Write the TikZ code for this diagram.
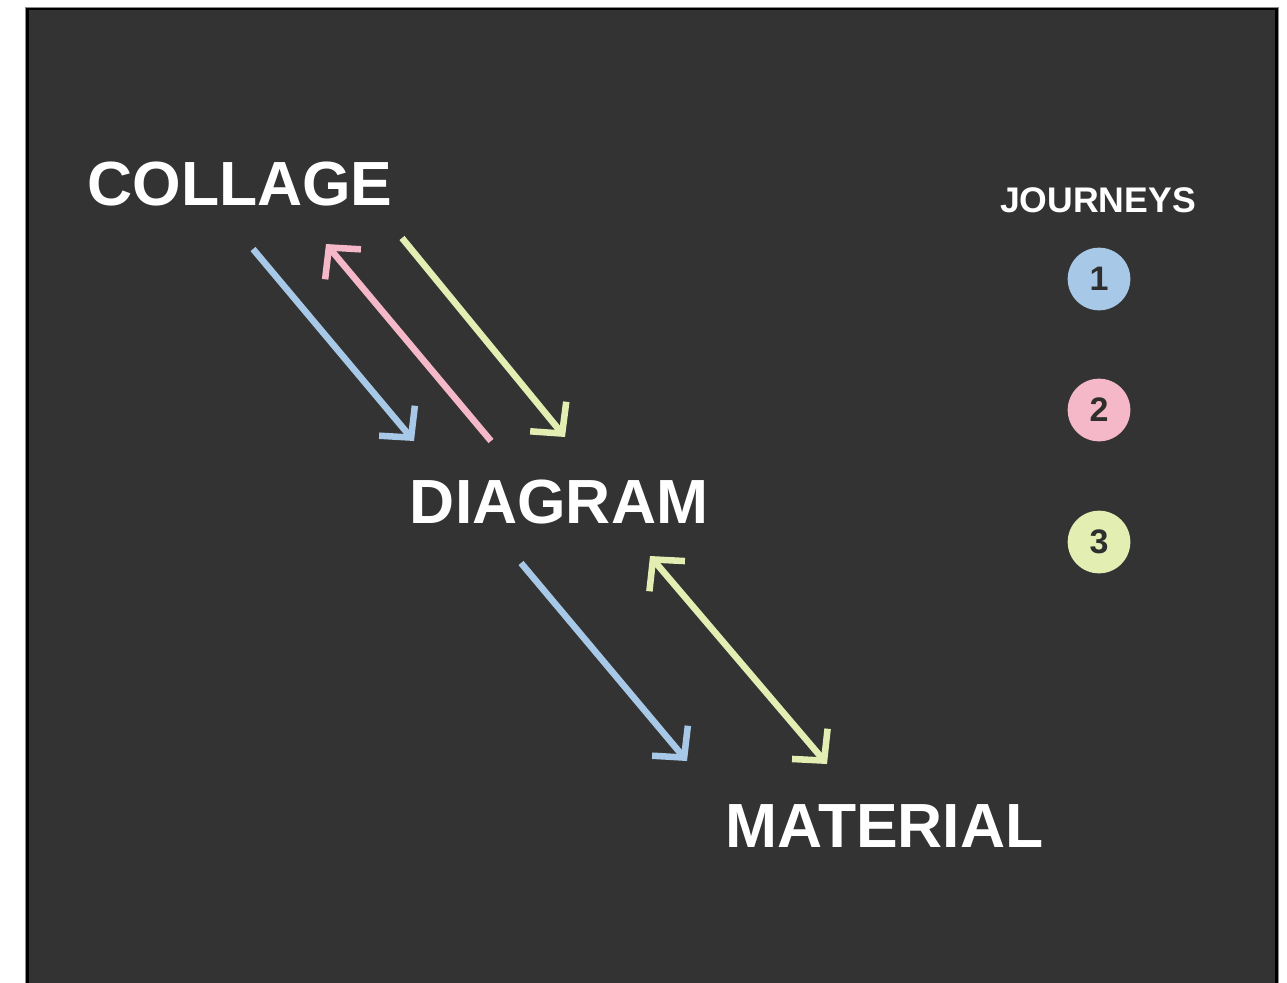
\documentclass[tikz,border=0pt]{standalone}
\usepackage{fontspec}
\setmainfont{Liberation Sans}
\usetikzlibrary{arrows.meta}

\definecolor{board}{HTML}{333333}
\definecolor{rim}{HTML}{8C8C8C}
\definecolor{jblue}{HTML}{A8C8E8}
\definecolor{jpink}{HTML}{F5B8C8}
\definecolor{jyellow}{HTML}{E2EEB2}
\definecolor{numtext}{HTML}{2E2E2E}

\tikzset{
  title/.style={text=white, inner sep=0pt, anchor=base,
    font=\bfseries\fontsize{46.8}{47}\selectfont},
  legendhead/.style={text=white, inner sep=0pt, anchor=base,
    font=\bfseries\fontsize{26.7}{27}\selectfont},
  badge/.style={circle, inner sep=0pt, minimum size=47pt, text=numtext,
    font=\bfseries\fontsize{25.5}{26}\selectfont},
  barb/.tip={Straight Barb[length=16.5pt, width=35pt, sharp]},
  journey/.style={line width=4.9pt, -barb},
  twoway/.style={line width=4.9pt, barb-barb},
}

\begin{document}
\begin{tikzpicture}[x=0.75pt, y=-0.75pt]
\useasboundingbox (0,0) rectangle (1287,982);

% board with its thin grey rim and black edge
\fill[rim] (25,7) rectangle (1279,995);
\fill[black] (26,8) rectangle (1278,995);
\fill[board] (29,10) rectangle (1275,995);

% stages
\node[title] (collage)  at (240,205.5) {COLLAGE};
\node[title] (diagram)  at (559,523.5) {DIAGRAM};
\node[title] (material) at (884.5,847.5) {MATERIAL};

% legend
\node[legendhead] (jhead) at (1098,212) {JOURNEYS};
\node[badge, fill=jblue]   (j1) at (1099,279) {1};
\node[badge, fill=jpink]   (j2) at (1099,410) {2};
\node[badge, fill=jyellow] (j3) at (1099,542) {3};

% arrow end points between the stages
\coordinate (b1s) at (253,249);  \coordinate (b1e) at (414,441);
\coordinate (p1s) at (491,441);  \coordinate (p1e) at (326,244);
\coordinate (y1s) at (402,238);  \coordinate (y1e) at (565,437);
\coordinate (b2s) at (521,563);  \coordinate (b2e) at (687,761);
\coordinate (y2s) at (650,556);  \coordinate (y2e) at (827,764);

% journey 1: collage -> diagram -> material
\draw[journey, jblue] (b1s) -- (b1e);
\draw[journey, jblue] (b2s) -- (b2e);
% journey 2: diagram -> collage
\draw[journey, jpink] (p1s) -- (p1e);
% journey 3: collage -> diagram <-> material
\draw[journey, jyellow] (y1s) -- (y1e);
\draw[twoway, jyellow] (y2s) -- (y2e);
\end{tikzpicture}
\end{document}
